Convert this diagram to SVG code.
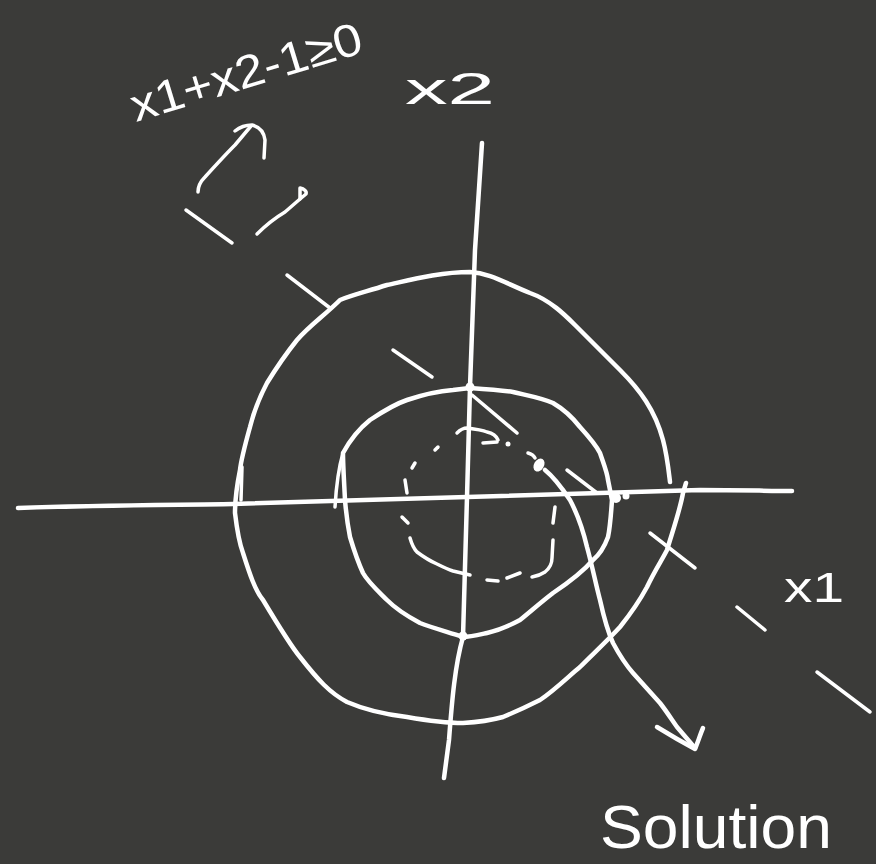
<svg xmlns="http://www.w3.org/2000/svg" width="876" height="864" viewBox="0 0 876 864">
<style>
.s{fill:none;stroke:#fff;stroke-width:4.5;stroke-linecap:round;stroke-linejoin:round}
.t{stroke-width:3.5}
.d{fill:#fff}
.lbl{fill:#fff;font-family:"Liberation Sans","DejaVu Sans",sans-serif}
</style>
<rect width="876" height="864" fill="#3b3b39"/>
<g id="axes">
<path class="s" d="M18,508 C100,505 170,505 233,504 L467,497 L700,490 C740,490 770,491 792,491"/>
<path class="s" d="M482,143 L475,250 L470,387 L467,497 L463,637 C455,665 452,700 449,740 L444,778"/>
</g>
<g id="outer-circle">
<path class="s" d="M670,482 C668,465 667,455 663,440 C655,410 640,390 620,370 C600,350 585,335 575,325 C565,315 550,300 530,293 C505,283 490,273 470,272 C440,272 410,280 387,285 C365,292 352,295 340,300 C325,315 310,325 297,340 C285,355 275,370 267,383 C258,400 253,415 250,427 C245,445 241,460 240,470 C236,490 235,500 235,513 C237,530 240,545 243,553 C250,575 255,590 263,600 C278,625 290,645 300,657 C318,680 330,693 347,702 C370,712 390,715 407,717 C430,721 445,723 463,723 C480,722 492,720 503,717 C520,710 530,705 540,700 C555,690 570,675 580,667 C595,652 608,640 620,627 C632,612 640,600 647,587 C655,570 662,560 667,550 C673,530 680,510 683,493 L686,483"/>
<path class="s t" d="M242,467 L241,500"/>
</g>
<g id="inner-circle">
<path class="s" d="M343,453 C350,440 360,428 370,420 C385,410 395,404 407,400 C425,394 440,391 453,390 L470,388 C485,389 500,390 513,392 C530,396 542,398 553,403 C565,410 573,418 580,427 C590,438 596,445 600,453 C604,465 607,472 608,480 L612,500 C611,515 610,528 608,537 C604,548 599,555 593,560 C580,575 565,585 553,593 C540,603 530,612 520,620 C507,627 496,631 487,633 C478,635 470,637 463,637 C448,632 433,628 420,623 C405,615 395,608 387,600 C377,590 368,582 363,573 C357,560 353,547 350,537 C347,522 346,512 345,500 C344,480 343,465 343,453"/>
<path class="s t" d="M343,453 C338,470 336,490 335,507"/>
<circle class="d" cx="470" cy="387" r="4.5"/>
<circle class="d" cx="463" cy="636" r="4.5"/>
<circle class="d" cx="616" cy="498" r="5"/>
<circle class="d" cx="626" cy="496" r="3.5"/>
</g>
<g id="dashed-circle">
<path class="s t" d="M457,433 C460,430 463,428 467,428 C475,429 482,430 487,432 C492,433 496,435 498,440"/>
<path class="s t" d="M483,443 L497,442"/>
<circle class="d" cx="508" cy="444" r="2.5"/>
<path class="s t" d="M435,450 L438,447"/>
<path class="s t" d="M412,468 L415,463"/>
<path class="s t" d="M405,480 L407,493"/>
<path class="s t" d="M402,517 L408,523"/>
<path class="s t" d="M410,538 C412,545 414,549 417,552 C425,558 430,561 437,564 C445,568 450,570 453,571 L470,575"/>
<path class="s t" d="M487,580 L498,581"/>
<path class="s t" d="M507,578 L520,573"/>
<path class="s t" d="M532,577 C538,576 542,574 545,572 C550,568 552,563 552,558 L553,540"/>
<path class="s t" d="M553,523 L555,507"/>
<path class="s t" d="M528,453 C532,454 534,456 535,458"/>
<ellipse class="d" cx="539" cy="465" rx="5" ry="7" transform="rotate(30 539 465)"/>
</g>
<g id="connectors">
<g id="dashed-line">
<path class="s t" d="M186,210 L232,243"/>
<path class="s t" d="M287,275 L330,308"/>
<path class="s t" d="M393,350 L432,377"/>
<path class="s t" d="M472,395 L517,433"/>
<path class="s t" d="M567,470 L597,493"/>
<path class="s t" d="M650,533 L695,568"/>
<path class="s t" d="M737,607 L765,630"/>
<path class="s t" d="M817,672 L870,712"/>
</g>
<g id="solution-arrow">
<path class="s" d="M545,470 C555,478 562,488 570,500 C578,515 583,530 587,547 C592,565 596,585 600,600 C604,618 608,632 613,643 C620,656 626,665 633,673 C643,684 652,694 660,703 C667,712 672,720 677,727 L695,748"/>
<path class="s" d="M657,727 C670,735 682,742 695,749 C698,742 700,735 703,728"/>
</g>
<g id="gradient-arrows">
<path class="s t" d="M198,192 C198,186 200,182 205,177 C215,166 225,155 235,145 L251,126"/>
<path class="s t" d="M235,131 C240,127 245,125 252,125 C260,127 264,132 265,140 L264,158"/>
<path class="s t" d="M257,234 C265,226 275,218 285,212 L300,199"/>
<path class="s t" d="M300,199 L300,188 C304,189 307,191 306,194 L300,199"/>
</g>
</g>
<g id="labels">
<text class="lbl" transform="translate(136,122) rotate(-17)" font-size="46" textLength="240" lengthAdjust="spacingAndGlyphs">x1+x2-1≥0</text>
<text class="lbl" x="405" y="104" font-size="44" textLength="90" lengthAdjust="spacingAndGlyphs">x2</text>
<text class="lbl" x="784" y="602" font-size="42" textLength="60" lengthAdjust="spacingAndGlyphs">x1</text>
<text class="lbl" x="600" y="848" font-size="62" textLength="232" lengthAdjust="spacingAndGlyphs">Solution</text>
</g>
</svg>
